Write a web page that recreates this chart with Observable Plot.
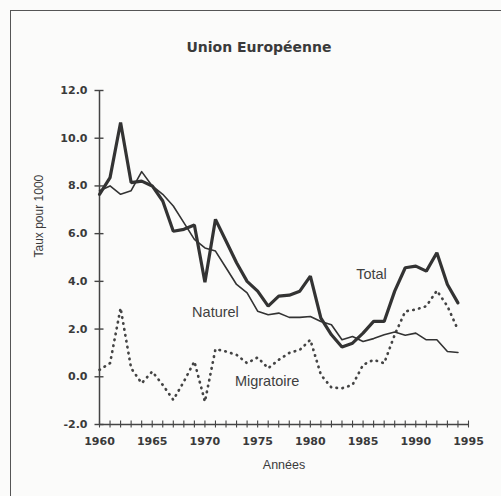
<!DOCTYPE html>
<html>
<head>
<meta charset="utf-8">
<script src="https://cdn.jsdelivr.net/npm/d3@7"></script>
<script src="https://cdn.jsdelivr.net/npm/@observablehq/plot@0.6"></script>
<style>
  html, body { margin: 0; padding: 0; background: #fbfbfa; }
  #wrap { position: relative; width: 501px; height: 496px; overflow: hidden; }
  #border { position: absolute; left: 10px; top: 10px; width: 520px; height: 520px;
            border-left: 1.5px solid #555; border-top: 1.5px solid #555; }
  svg { position: absolute; left: 0; top: 0; background: transparent; }
</style>
</head>
<body>
<div id="wrap"><div id="border"></div></div>
<script>
const years = d3.range(1960, 1995);
const total = [7.65, 8.35, 10.66, 8.14, 8.2, 8.0, 7.37, 6.1, 6.18, 6.36,
               3.96, 6.6, 5.69, 4.78, 4.0, 3.59, 2.96, 3.38, 3.42, 3.59,
               4.22, 2.46, 1.76, 1.25, 1.41, 1.83, 2.32, 2.32, 3.59, 4.57,
               4.64, 4.43, 5.2, 3.87, 3.1];
const naturel = [7.8, 8.0, 7.65, 7.8, 8.6, 8.0, 7.65, 7.16, 6.46, 5.76,
                 5.4, 5.27, 4.57, 3.87, 3.52, 2.75, 2.6, 2.67, 2.49, 2.49,
                 2.53, 2.32, 2.18, 1.55, 1.69, 1.48, 1.6, 1.76, 1.88, 1.74,
                 1.83, 1.55, 1.55, 1.06, 1.02];
const migratoire = [0.29, 0.57, 2.88, 0.36, -0.27, 0.22, -0.34, -0.97, -0.2, 0.64,
                    -1.04, 1.16, 1.06, 0.92, 0.57, 0.81, 0.36, 0.71, 1.0, 1.13,
                    1.55, 0.08, -0.45, -0.48, -0.34, 0.5, 0.71, 0.57, 1.76, 2.74,
                    2.82, 2.96, 3.61, 2.96, 1.97];
const yTicks = [-2, 0, 2, 4, 6, 8, 10, 12];
const xLabelTicks = [1960, 1965, 1970, 1975, 1980, 1985, 1990, 1995];
const xMinorTicks = d3.range(1960, 1996);
const seriesLabels = [
  {name: "Total", year: 1985.8, value: 4.3},
  {name: "Naturel", year: 1971.0, value: 2.7},
  {name: "Migratoire", year: 1975.9, value: -0.2}
];
const title = "Union Européenne";
const yLabel = "Taux pour 1000";
const xLabel = "Années";

const toRows = arr => years.map((yr, i) => ({year: yr, value: arr[i]}));
const ink = "#3a3a3a";

const chart = Plot.plot({
  width: 501,
  height: 496,
  marginLeft: 99,
  marginRight: 33,
  marginTop: 90,
  marginBottom: 72,
  style: {background: "transparent", color: ink},
  x: {domain: [1960, 1995], label: null},
  y: {domain: [-2, 12], label: null},
  marks: [
    Plot.ruleX([1960], {stroke: "#444", strokeWidth: 1.5}),
    Plot.ruleY([-2], {stroke: "#444", strokeWidth: 1.5}),
    Plot.axisY({ticks: yTicks, tickSize: 9, dx: 4.5, text: null, stroke: "#444", strokeWidth: 1.4, label: null}),
    Plot.axisY({ticks: yTicks, tickSize: 0, tickPadding: 12, tickFormat: d => d.toFixed(1),
                fontSize: 11, fontWeight: "bold", fontFamily: "DejaVu Sans", fill: ink, label: null}),
    Plot.axisX({ticks: xMinorTicks, tickSize: 7, dy: -3.5, text: null, stroke: "#444", strokeWidth: 1.1, label: null}),
    Plot.axisX({ticks: xLabelTicks, tickSize: 0, tickPadding: 13, tickFormat: d => String(d),
                fontSize: 11, fontWeight: "bold", fontFamily: "DejaVu Sans", fill: ink, label: null}),
    Plot.line(toRows(migratoire), {x: "year", y: "value", stroke: "#444", strokeWidth: 2.7,
                strokeDasharray: "0.5,5.5", strokeLinecap: "round"}),
    Plot.line(toRows(naturel), {x: "year", y: "value", stroke: "#333", strokeWidth: 1.6}),
    Plot.line(toRows(total), {x: "year", y: "value", stroke: "#333", strokeWidth: 3.2, strokeLinejoin: "miter"}),
    Plot.text(seriesLabels, {x: "year", y: "value", text: "name", fontSize: 14.5,
                fontFamily: "Liberation Sans", fill: "#3f3f3f"}),
    Plot.text([title], {frameAnchor: "top", dx: -25, dy: -48, fontSize: 14, fontWeight: "bold",
                fontFamily: "DejaVu Sans", fill: "#3a3a3a"}),
    Plot.text([yLabel], {frameAnchor: "left", dx: -60, rotate: -90, fontSize: 12,
                fontFamily: "Liberation Sans", fill: ink}),
    Plot.text([xLabel], {frameAnchor: "bottom", dy: 44, fontSize: 12.5,
                fontFamily: "Liberation Sans", fill: ink})
  ]
});
document.getElementById("wrap").appendChild(chart);
</script>
</body>
</html>
